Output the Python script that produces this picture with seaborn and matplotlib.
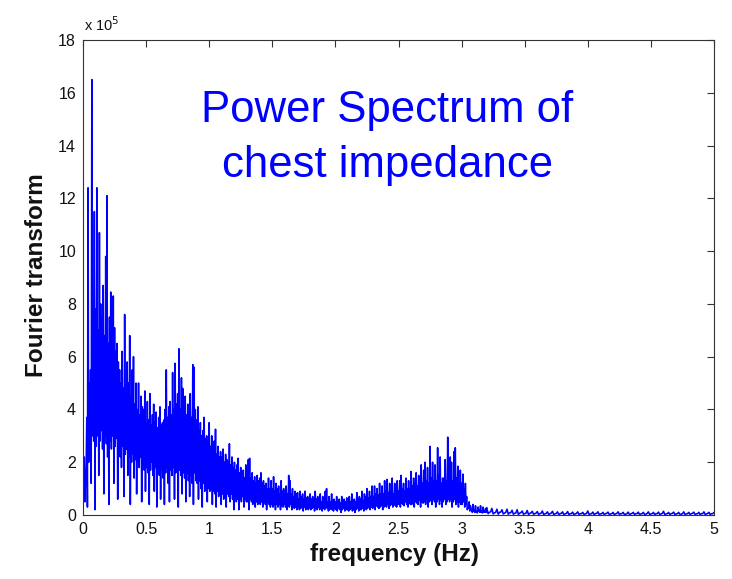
import numpy as np
import pandas as pd
import matplotlib
matplotlib.use("Agg")
import matplotlib.pyplot as plt
import seaborn as sns
from matplotlib.ticker import FuncFormatter

# ---- data (power in units of 1e5) ----
step_low = 0.01   # sampling step of the band 0.00 - 3.19 Hz
# samples at k*0.01 Hz (upper part of the noisy band)
power_low = [
    0.2, 2.2, 1.5, 3.7, 12.4, 5.0, 5.5, 16.5, 7.5, 11.5,
    7.8, 12.4, 7.0, 10.7, 8.0, 7.5, 8.7, 6.8, 9.8, 12.1,
    6.5, 7.5, 8.45, 6.0, 8.3, 7.1, 6.2, 6.5, 5.8, 5.5,
    5.0, 6.2, 4.8, 7.6, 4.9, 5.8, 5.0, 6.8, 4.5, 5.5,
    6.0, 4.2, 5.0, 4.0, 5.0, 3.8, 4.5, 4.1, 4.0, 4.7,
    3.5, 4.3, 3.6, 4.6, 3.4, 3.8, 4.2, 3.5, 3.9, 3.3,
    3.7, 4.1, 3.4, 3.5, 3.6, 4.0, 5.5, 3.7, 4.1, 4.3,
    3.8, 5.4, 4.0, 5.75, 4.2, 4.6, 6.3, 4.0, 5.2, 4.8,
    4.0, 4.5, 3.8, 4.2, 4.1, 4.6, 3.7, 5.7, 5.6, 4.0,
    3.6, 4.1, 3.2, 3.5, 3.0, 3.2, 3.7, 2.9, 3.0, 2.8,
    3.5, 2.6, 3.0, 2.4, 2.8, 3.25, 2.3, 2.6, 2.2, 2.4,
    2.2, 2.5, 2.0, 2.3, 2.1, 2.0, 2.7, 1.9, 2.2, 1.8,
    2.0, 1.7, 1.9, 2.15, 1.6, 1.8, 1.5, 1.7, 1.4, 1.9,
    1.5, 2.1, 2.15, 1.4, 1.6, 1.3, 1.45, 1.2, 1.5, 1.3,
    1.4, 1.6, 1.2, 1.3, 1.1, 1.2, 1.0, 1.4, 1.0, 1.3,
    1.0, 1.45, 0.9, 1.2, 1.0, 1.1, 0.8, 1.3, 0.9, 1.0,
    0.8, 1.1, 0.8, 1.5, 1.3, 0.8, 1.0, 0.7, 0.9, 0.8,
    0.85, 0.6, 0.9, 0.7, 0.8, 0.6, 0.9, 0.65, 0.7, 0.6,
    0.8, 0.6, 0.7, 0.55, 0.9, 0.6, 0.7, 0.6, 0.8, 0.5,
    0.7, 0.6, 0.9, 1.0, 0.5, 0.7, 0.5, 0.8, 0.55, 0.6,
    0.5, 0.7, 0.5, 0.6, 0.45, 0.7, 0.5, 0.6, 0.5, 0.65,
    0.55, 0.7, 0.5, 0.8, 0.55, 0.6, 0.5, 0.85, 0.6, 0.7,
    0.6, 0.9, 0.55, 0.8, 0.7, 1.0, 0.65, 0.9, 0.7, 1.1,
    0.7, 1.1, 0.8, 1.0, 0.75, 1.2, 0.8, 1.1, 0.8, 1.3,
    0.9, 1.35, 0.85, 1.2, 0.9, 1.4, 0.8, 1.2, 0.9, 1.3,
    0.9, 1.3, 1.5, 1.0, 1.2, 0.9, 1.4, 1.0, 1.3, 1.0,
    1.65, 1.1, 1.4, 1.2, 1.6, 1.1, 1.5, 1.3, 1.9, 1.2,
    1.7, 2.0, 1.3, 1.8, 1.2, 2.6, 1.4, 2.0, 1.3, 1.9,
    1.3, 2.55, 1.5, 2.2, 1.2, 1.4, 1.4, 2.1, 1.3, 2.95,
    1.5, 2.2, 2.0, 1.3, 2.4, 2.55, 1.4, 1.85, 1.2, 1.7,
    1.2, 1.55, 1.0, 1.2, 0.7, 0.3, 0.5, 0.35, 0.2, 0.4,
    0.15, 0.35, 0.1, 0.3, 0.2, 0.35, 0.1, 0.3, 0.15, 0.25,
]
# samples at k*0.01 + 0.005 Hz (lower part of the noisy band)
power_low_mid = [
    1.0, 0.5, 1.8, 0.3, 2.0, 2.5, 1.2, 3.0, 2.8, 0.2,
    2.6, 3.0, 1.5, 2.8, 3.2, 2.5, 0.8, 3.0, 2.7, 2.2,
    0.4, 2.8, 2.5, 3.0, 1.2, 2.6, 2.9, 0.6, 2.4, 2.2,
    1.8, 2.6, 0.7, 2.3, 2.5, 1.5, 2.2, 0.4, 2.0, 2.3,
    1.4, 2.1, 0.8, 2.0, 1.8, 2.2, 0.5, 1.9, 1.7, 0.9,
    1.8, 1.6, 0.4, 1.7, 2.0, 1.5, 0.9, 1.8, 0.3, 1.6,
    1.5, 0.6, 1.7, 1.4, 0.4, 1.6, 1.8, 1.2, 0.5, 1.7,
    1.5, 1.8, 0.6, 1.6, 1.9, 0.3, 1.7, 1.5, 0.8, 1.6,
    1.4, 0.5, 1.6, 1.3, 0.7, 1.5, 1.2, 0.4, 1.6, 1.3,
    1.2, 0.6, 1.3, 1.0, 0.3, 1.2, 0.9, 1.1, 0.5, 1.0,
    0.9, 1.0, 0.4, 0.9, 0.8, 0.3, 0.9, 0.7, 0.8, 0.4,
    0.8, 0.6, 0.7, 0.3, 0.8, 0.7, 0.5, 0.8, 0.6, 0.2,
    0.7, 0.5, 0.6, 0.2, 0.6, 0.5, 0.7, 0.3, 0.6, 0.5,
    0.5, 0.2, 0.6, 0.5, 0.4, 0.6, 0.3, 0.5, 0.4, 0.5,
    0.4, 0.5, 0.3, 0.5, 0.4, 0.2, 0.5, 0.4, 0.3, 0.4,
    0.3, 0.4, 0.2, 0.4, 0.3, 0.4, 0.2, 0.35, 0.3, 0.4,
    0.3, 0.2, 0.35, 0.3, 0.4, 0.2, 0.3, 0.25, 0.3, 0.2,
    0.3, 0.2, 0.25, 0.3, 0.15, 0.3, 0.2, 0.3, 0.2, 0.25,
    0.2, 0.25, 0.3, 0.15, 0.25, 0.2, 0.3, 0.2, 0.25, 0.15,
    0.25, 0.2, 0.3, 0.25, 0.15, 0.2, 0.25, 0.2, 0.15, 0.25,
    0.2, 0.15, 0.25, 0.2, 0.1, 0.2, 0.25, 0.15, 0.2, 0.2,
    0.15, 0.2, 0.25, 0.15, 0.2, 0.1, 0.2, 0.25, 0.15, 0.2,
    0.2, 0.25, 0.15, 0.3, 0.2, 0.25, 0.3, 0.2, 0.3, 0.25,
    0.3, 0.2, 0.35, 0.3, 0.25, 0.3, 0.35, 0.2, 0.3, 0.35,
    0.3, 0.4, 0.25, 0.35, 0.4, 0.3, 0.4, 0.35, 0.3, 0.4,
    0.4, 0.3, 0.45, 0.4, 0.35, 0.5, 0.4, 0.3, 0.45, 0.4,
    0.4, 0.5, 0.3, 0.5, 0.45, 0.4, 0.55, 0.3, 0.5, 0.45,
    0.5, 0.4, 0.6, 0.3, 0.5, 0.55, 0.4, 0.6, 0.5, 0.3,
    0.5, 0.6, 0.4, 0.55, 0.3, 0.5, 0.6, 0.4, 0.5, 0.6,
    0.5, 0.6, 0.3, 0.5, 0.6, 0.4, 0.5, 0.3, 0.5, 0.4,
    0.4, 0.5, 0.3, 0.4, 0.2, 0.25, 0.15, 0.2, 0.1, 0.15,
    0.1, 0.12, 0.08, 0.15, 0.1, 0.12, 0.08, 0.1, 0.12, 0.1,
]
step_high = 0.02  # sampling step of the band 3.20 - 5.00 Hz
# samples at 3.2 + k*0.02 Hz
power_high = [
    0.28, 0.1, 0.25, 0.08, 0.22, 0.1, 0.2, 0.07, 0.22, 0.08,
    0.18, 0.06, 0.2, 0.07, 0.15, 0.05, 0.17, 0.06, 0.14, 0.05,
    0.13, 0.05, 0.15, 0.04, 0.12, 0.05, 0.14, 0.04, 0.12, 0.05,
    0.12, 0.04, 0.13, 0.05, 0.11, 0.04, 0.12, 0.05, 0.1, 0.04,
    0.15, 0.04, 0.11, 0.05, 0.12, 0.04, 0.1, 0.05, 0.11, 0.04,
    0.1, 0.04, 0.12, 0.05, 0.1, 0.03, 0.11, 0.04, 0.1, 0.05,
    0.11, 0.04, 0.1, 0.03, 0.12, 0.04, 0.1, 0.05, 0.11, 0.04,
    0.14, 0.04, 0.1, 0.05, 0.11, 0.04, 0.1, 0.03, 0.12, 0.04,
    0.1, 0.05, 0.11, 0.04, 0.1, 0.05, 0.12, 0.04, 0.1, 0.05,
    0.1,
]
# samples at 3.21 + k*0.02 Hz (between the ones above)
power_high_mid = [
    0.05, 0.12, 0.04, 0.1, 0.03, 0.11, 0.04, 0.1, 0.03, 0.09,
    0.03, 0.08, 0.02, 0.09, 0.03, 0.07, 0.02, 0.08, 0.03, 0.07,
    0.02, 0.07, 0.02, 0.06, 0.02, 0.07, 0.02, 0.06, 0.02, 0.06,
    0.02, 0.06, 0.02, 0.05, 0.02, 0.06, 0.02, 0.05, 0.02, 0.06,
    0.02, 0.05, 0.02, 0.06, 0.02, 0.05, 0.02, 0.06, 0.02, 0.05,
    0.02, 0.06, 0.02, 0.05, 0.02, 0.05, 0.02, 0.06, 0.02, 0.05,
    0.02, 0.05, 0.02, 0.06, 0.02, 0.05, 0.02, 0.05, 0.02, 0.06,
    0.02, 0.05, 0.02, 0.06, 0.02, 0.05, 0.02, 0.05, 0.02, 0.05,
    0.02, 0.06, 0.02, 0.05, 0.02, 0.05, 0.02, 0.06, 0.02, 0.05,
]
x_ticks = [0, 0.5, 1, 1.5, 2, 2.5, 3, 3.5, 4, 4.5, 5]
y_ticks = [0, 2, 4, 6, 8, 10, 12, 14, 16, 18]
title_lines = ["Power Spectrum of", "chest impedance"]

freq = np.concatenate([
    np.arange(len(power_low)) * step_low,
    np.arange(len(power_low_mid)) * step_low + step_low / 2,
    3.2 + np.arange(len(power_high)) * step_high,
    3.2 + step_high / 2 + np.arange(len(power_high_mid)) * step_high,
])
power = np.concatenate([power_low, power_low_mid, power_high, power_high_mid])
df = pd.DataFrame({"freq": freq, "power": power}).sort_values("freq")

# ---- style ----
sns.set_style("white")
plt.rcParams["font.family"] = ["Liberation Sans", "DejaVu Sans"]
plt.rcParams["xtick.direction"] = "in"
plt.rcParams["ytick.direction"] = "in"

fig = plt.figure(figsize=(7.32, 5.79), dpi=100)
ax = fig.add_axes([83 / 732, 1 - 515 / 579, 631 / 732, 475 / 579])

sns.lineplot(data=df, x="freq", y="power", ax=ax, color="#0000ff",
             linewidth=1.15, estimator=None, sort=True)

ax.set_xlim(0, 5)
ax.set_ylim(0, 18)
ax.set_xticks(x_ticks)
ax.set_yticks(y_ticks)
ax.xaxis.set_major_formatter(FuncFormatter(lambda v, p: f"{v:g}"))
ax.yaxis.set_major_formatter(FuncFormatter(lambda v, p: f"{v:g}"))
ax.tick_params(axis="both", which="both", direction="in", length=5,
               width=0.8, color="#333333", labelsize=11.5, top=True,
               right=True, labelcolor="#111111")
ax.tick_params(axis="y", pad=5)
ax.tick_params(axis="x", pad=5)
for s in ax.spines.values():
    s.set_color("#333333")
    s.set_linewidth(0.8)

ax.set_xlabel("frequency (Hz)", fontsize=17.5, fontweight="bold",
              color="#111111")
ax.set_ylabel("Fourier transform", fontsize=17.5, fontweight="bold",
              color="#111111")
ax.xaxis.set_label_coords(0.494, -0.058)
ax.yaxis.set_label_coords(-0.056, 0.505)

ax.text(0.002, 1.012, r"x 10$^{5}$", transform=ax.transAxes, fontsize=10.5,
        ha="left", va="bottom", color="#111111")

ax.text(2.41, 14.89, title_lines[0], fontsize=31.5, color="#0000ff",
        ha="center", va="baseline")
ax.text(2.41, 12.8, title_lines[1], fontsize=31.5, color="#0000ff",
        ha="center", va="baseline")

fig.savefig("out.png", dpi=100)
